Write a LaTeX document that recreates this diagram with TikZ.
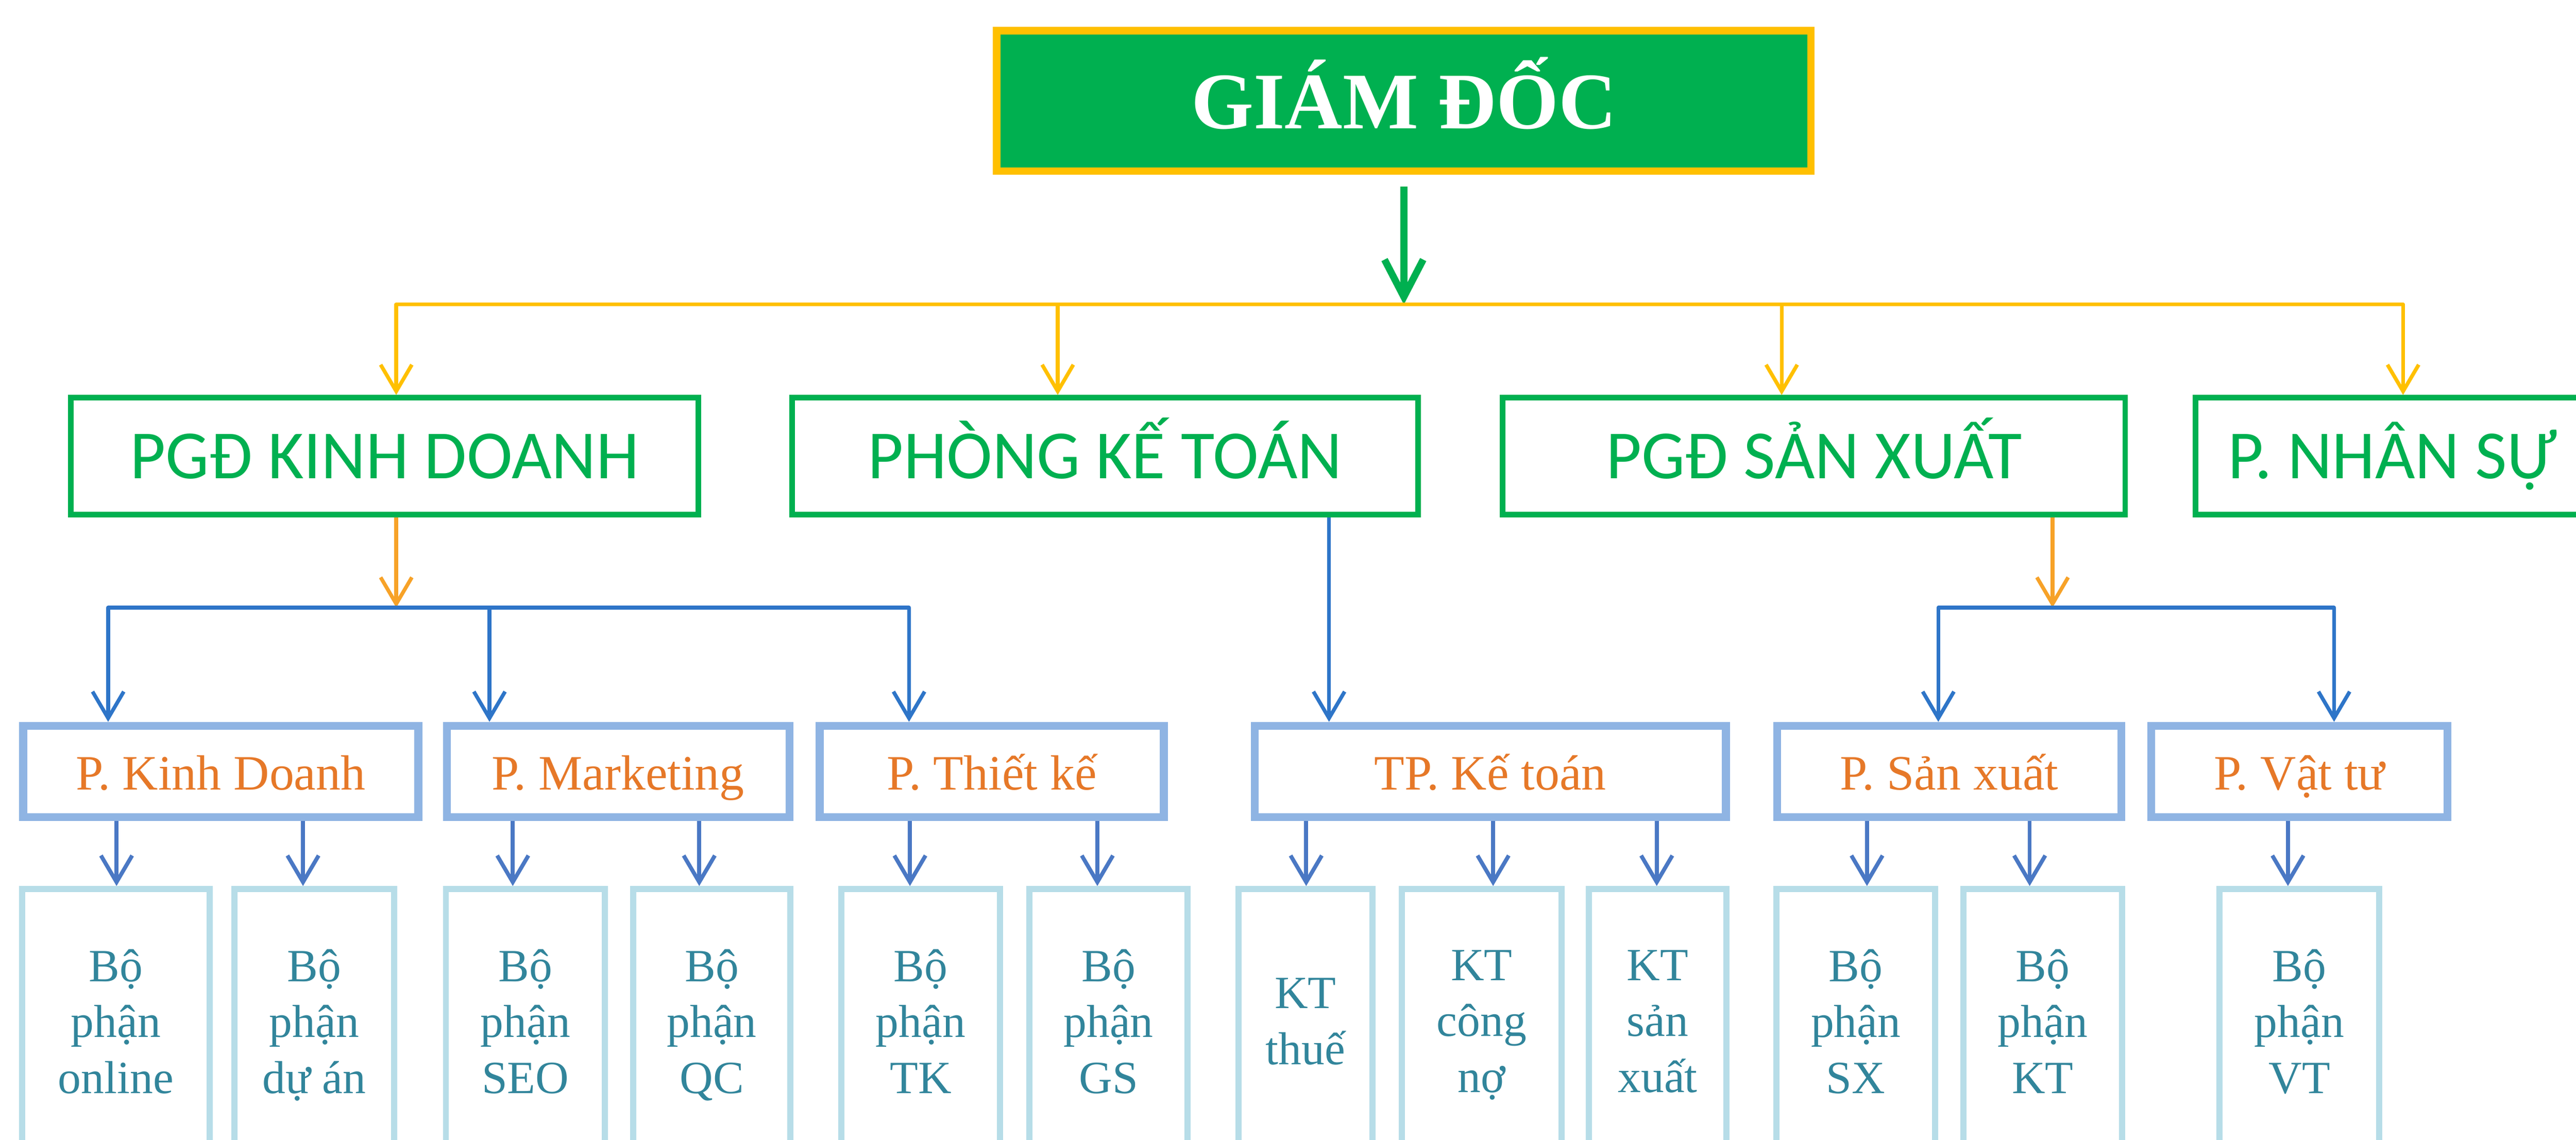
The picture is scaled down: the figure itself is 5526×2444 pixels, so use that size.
\documentclass[tikz,border=0pt]{standalone}
\usepackage{fontspec}
\setmainfont{Liberation Serif}
\newfontfamily\calib{Carlito}
\usetikzlibrary{arrows.meta}
\definecolor{gdgreen}{RGB}{0,176,80}
\definecolor{gdgold}{RGB}{255,192,0}
\definecolor{lvtwoborder}{RGB}{143,180,227}
\definecolor{lvtwotext}{RGB}{230,120,40}
\definecolor{lvthreeborder}{RGB}{183,221,232}
\definecolor{lvthreetext}{RGB}{49,133,155}
\definecolor{orangeline}{RGB}{247,162,40}
\definecolor{busblue}{RGB}{46,117,200}
\definecolor{childblue}{RGB}{74,120,196}
\begin{document}
\begin{tikzpicture}[x=0.1pt,y=-0.1pt,
  topbox/.style={draw=gdgold, fill=gdgreen, line width=1.6pt, inner sep=0pt,
    text=white, font=\fontsize{17.2}{20}\selectfont\bfseries,
    text height=11.9pt, text depth=0pt, minimum width=174.7pt, minimum height=30.1pt},
  lvone/.style={draw=gdgreen, fill=white, line width=1.2pt, inner sep=0pt,
    text=gdgreen, font=\calib\fontsize{14.8}{17}\selectfont,
    text height=9.5pt, text depth=0pt, minimum height=25.1pt},
  lvtwo/.style={draw=lvtwoborder, fill=white, line width=1.7pt, inner sep=0pt,
    text=lvtwotext, font=\fontsize{10.6}{12}\selectfont,
    text height=7.9pt, text depth=0pt, minimum height=19.6pt},
  lvthree/.style={draw=lvthreeborder, fill=white, line width=1.3pt, inner sep=0pt,
    text=lvthreetext, font=\fontsize{9.9}{12}\selectfont, align=center,
    text depth=0pt, minimum height=56.7pt},
  tipv/.style={-{Straight Barb[length=5.7pt,width=6.7pt]}},
  tipboth/.style={{Straight Barb[length=5.7pt,width=6.7pt]}-{Straight Barb[length=5.7pt,width=6.7pt]}},
  ylw/.style={draw=gdgold, line width=0.8pt, line join=round},
  garr/.style={draw=gdgreen, line width=1.5pt, -{Straight Barb[length=8pt,width=8.3pt]}},
  org/.style={draw=orangeline, line width=0.8pt, tipv},
  blu/.style={draw=busblue, line width=0.8pt, line join=round},
  carr/.style={draw=childblue, line width=0.85pt, tipv}
]
\useasboundingbox (0,0) rectangle (5526,2444);
\fill[white] (0,0) rectangle (5526,2444);

% top
\node[topbox] (top) at (3011.5,216.5) {GIÁM ĐỐC};

% level 1
\node[lvone, minimum width=134.6pt] (kd) at (825,978.5) {PGĐ KINH DOANH};
\node[lvone, minimum width=134.3pt] (kt) at (2370.5,978.5) {PHÒNG KẾ TOÁN};
\node[lvone, minimum width=133.6pt] (sx) at (3891,978.5) {PGĐ SẢN XUẤT};
\node[lvone, minimum width=84.4pt] (ns) at (5132,978.5) {P. NHÂN SỰ};

% level 2
\node[lvtwo, minimum width=84.8pt] (pkd) at (473.5,1654.5) {P. Kinh Doanh};
\node[lvtwo, minimum width=73.5pt] (pmk) at (1326,1654.5) {P. Marketing};
\node[lvtwo, minimum width=73.8pt] (ptk) at (2127.5,1654.5) {P. Thiết kế};
\node[lvtwo, minimum width=101.1pt] (tpkt) at (3197,1654.5) {TP. Kế toán};
\node[lvtwo, minimum width=73.8pt] (psx) at (4181.5,1654.5) {P. Sản xuất};
\node[lvtwo, minimum width=63.6pt] (pvt) at (4932.5,1654.5) {P. Vật tư};

% level 3
\node[lvthree, minimum width=40.2pt] (online) at (248.5,2190) {Bộ\\phận\\online};
\node[lvthree, minimum width=34.3pt] (duan) at (674,2190) {Bộ\\phận\\dự án};
\node[lvthree, minimum width=34.1pt] (seo) at (1127,2190) {Bộ\\phận\\SEO};
\node[lvthree, minimum width=33.7pt] (qc) at (1527,2190) {Bộ\\phận\\QC};
\node[lvthree, minimum width=34.1pt] (tk) at (1975,2190) {Bộ\\phận\\TK};
\node[lvthree, minimum width=33.9pt] (gs) at (2378,2190) {Bộ\\phận\\GS};
\node[lvthree, minimum width=28.8pt] (thue) at (2800.5,2190) {KT\\thuế};
\node[lvthree, minimum width=34.2pt] (congno) at (3178.5,2190) {KT\\công\\nợ};
\node[lvthree, minimum width=29.5pt] (ktsx) at (3556,2190) {KT\\sản\\xuất};
\node[lvthree, minimum width=34.1pt] (bpsx) at (3981,2190) {Bộ\\phận\\SX};
\node[lvthree, minimum width=34.1pt] (bpkt) at (4382,2190) {Bộ\\phận\\KT};
\node[lvthree, minimum width=34.2pt] (bpvt) at (4932.5,2190) {Bộ\\phận\\VT};

% top connectors
\coordinate (gbus) at (3011.5,653);
\coordinate (yA) at (850,653);
\coordinate (yB) at (2269,653);
\coordinate (yC) at (3822,653);
\coordinate (yD) at (5155,653);
\draw[garr, shorten <=2.5pt] (top.south) -- (gbus);
\draw[ylw, tipboth] (yA |- kd.north) -- (yA) -- (yD) -- (yD |- ns.north);
\draw[ylw, tipv] (yB) -- (yB |- kt.north);
\draw[ylw, tipv] (yC) -- (yC |- sx.north);

% left branch
\coordinate (oL) at (850,1303);
\coordinate (bL1) at (232,1303);
\coordinate (bL2) at (1050,1303);
\coordinate (bL3) at (1950,1303);
\draw[org] (kd.south -| oL) -- (oL);
\draw[blu, tipboth] (bL1 |- pkd.north) -- (bL1) -- (bL3) -- (bL3 |- ptk.north);
\draw[blu, tipv] (bL2) -- (bL2 |- pmk.north);

% middle branch
\coordinate (kx) at (2851,0);
\draw[blu, tipv] (kt.south -| kx) -- (tpkt.north -| kx);

% right branch
\coordinate (oR) at (4403,1303);
\coordinate (bR1) at (4158,1303);
\coordinate (bR2) at (5007,1303);
\draw[org] (sx.south -| oR) -- (oR);
\draw[blu, tipboth] (bR1 |- psx.north) -- (bR1) -- (bR2) -- (bR2 |- pvt.north);

% child columns
\coordinate (c1) at (250,0);
\coordinate (c2) at (650,0);
\coordinate (c3) at (1100,0);
\coordinate (c4) at (1500,0);
\coordinate (c5) at (1952,0);
\coordinate (c6) at (2354,0);
\coordinate (c7) at (2802,0);
\coordinate (c8) at (3203,0);
\coordinate (c9) at (3554,0);
\coordinate (c10) at (4005,0);
\coordinate (c11) at (4354,0);
\coordinate (c12) at (4908,0);
\draw[carr] (pkd.south -| c1) -- (online.north -| c1);
\draw[carr] (pkd.south -| c2) -- (duan.north -| c2);
\draw[carr] (pmk.south -| c3) -- (seo.north -| c3);
\draw[carr] (pmk.south -| c4) -- (qc.north -| c4);
\draw[carr] (ptk.south -| c5) -- (tk.north -| c5);
\draw[carr] (ptk.south -| c6) -- (gs.north -| c6);
\draw[carr] (tpkt.south -| c7) -- (thue.north -| c7);
\draw[carr] (tpkt.south -| c8) -- (congno.north -| c8);
\draw[carr] (tpkt.south -| c9) -- (ktsx.north -| c9);
\draw[carr] (psx.south -| c10) -- (bpsx.north -| c10);
\draw[carr] (psx.south -| c11) -- (bpkt.north -| c11);
\draw[carr] (pvt.south -| c12) -- (bpvt.north -| c12);
\end{tikzpicture}
\end{document}
